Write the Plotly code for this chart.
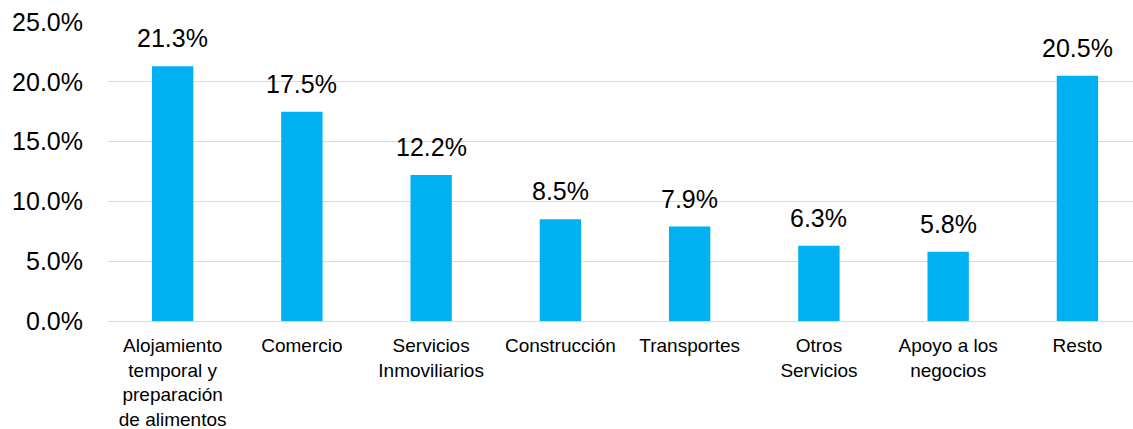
import plotly.graph_objects as go

# Distribution by sector (share, %)
categories = [
    "Alojamiento<br>temporal y<br>preparación<br>de alimentos",
    "Comercio",
    "Servicios<br>Inmoviliarios",
    "Construcción",
    "Transportes",
    "Otros<br>Servicios",
    "Apoyo a los<br>negocios",
    "Resto",
]
shares = [21.3, 17.5, 12.2, 8.5, 7.9, 6.3, 5.8, 20.5]
y_ticks = [0, 5, 10, 15, 20, 25]
y_tick_labels = [f"{v:.1f}%" for v in y_ticks]

BAR_COLOR = "#00B0F0"
FONT = "Liberation Sans, Arial, sans-serif"

x_pos = list(range(len(categories)))

fig = go.Figure(
    go.Bar(
        x=x_pos,
        y=shares,
        width=0.32,
        marker=dict(color=BAR_COLOR, line=dict(width=0)),
        hoverinfo="skip",
    )
)

# value labels above each bar
for xi, v in zip(x_pos, shares):
    fig.add_annotation(
        x=xi, y=v, text=f"{v:.1f}%", showarrow=False,
        yanchor="bottom", yshift=12,
        font=dict(family=FONT, size=25, color="#000000"),
    )

fig.update_layout(
    width=1133,
    height=429,
    margin=dict(l=108, r=0, t=22, b=108),
    paper_bgcolor="white",
    plot_bgcolor="white",
    showlegend=False,
    font=dict(family=FONT, color="#000000"),
)

fig.update_xaxes(
    range=[-0.5, 7.43],
    tickmode="array",
    tickvals=x_pos,
    ticktext=categories,
    tickfont=dict(family=FONT, size=19, color="#000000"),
    showgrid=False,
    showline=False,
    ticks="",
    tickangle=0,
    ticklabelstandoff=11,
    automargin=False,
    fixedrange=True,
)

fig.update_yaxes(
    range=[0, 25],
    tickmode="array",
    tickvals=y_ticks,
    ticktext=y_tick_labels,
    tickfont=dict(family=FONT, size=25, color="#000000"),
    showgrid=True,
    gridcolor="#D9D9D9",
    gridwidth=1.3,
    zeroline=True,
    zerolinecolor="#D9D9D9",
    zerolinewidth=1.3,
    showline=False,
    ticks="",
    ticklabelstandoff=24,
    automargin=False,
    fixedrange=True,
)

fig.write_html("out.html")
